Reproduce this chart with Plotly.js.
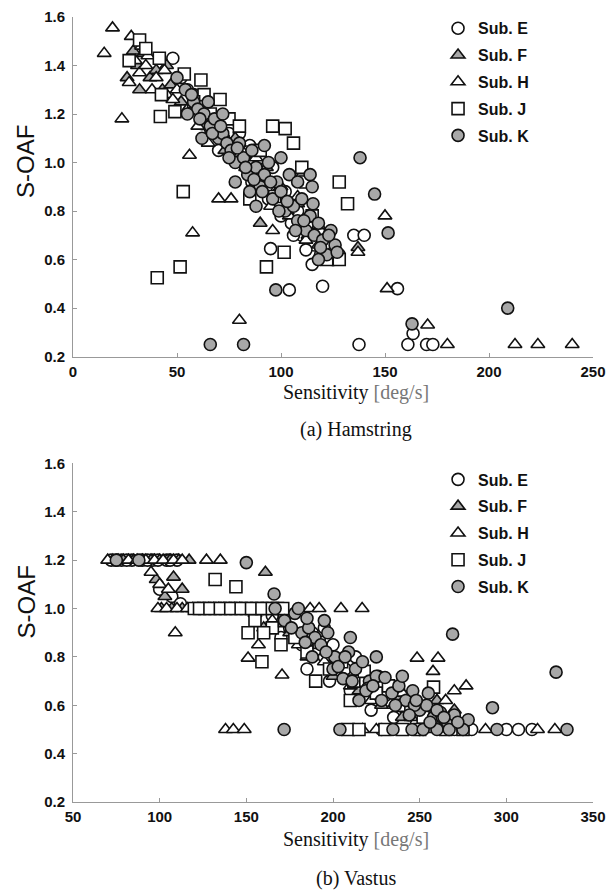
<!DOCTYPE html>
<html>
<head>
<meta charset="utf-8">
<script src="https://cdn.plot.ly/plotly-3.0.1.min.js"></script>
<style>html,body{margin:0;padding:0;background:#fff;}#chart{width:613px;height:892px;}</style>
</head>
<body>
<div id="chart"></div>
<script>
// ---------- (a) Hamstring ----------
var hamE_x = [48, 55, 60, 64, 68, 72, 75, 78, 82, 85, 88, 90, 93, 96, 99, 102, 105, 108, 110, 113, 116, 119, 122, 125, 128, 95, 104, 120, 137.5, 156, 161, 163.5, 170, 173, 135, 140, 70, 80, 115, 52, 58, 62, 66, 74, 86, 94, 100, 106, 112, 118, 124];
var hamE_y = [1.43, 1.30, 1.25, 1.20, 1.18, 1.10, 1.12, 1.05, 1.00, 1.07, 0.95, 1.02, 0.90, 0.98, 0.82, 0.88, 0.75, 0.80, 0.70, 0.74, 0.66, 0.62, 0.68, 0.60, 0.62, 0.645, 0.475, 0.49, 0.25, 0.48, 0.25, 0.295, 0.25, 0.25, 0.70, 0.70, 1.05, 1.12, 0.58, 1.35, 1.28, 1.16, 1.14, 1.08, 0.92, 0.85, 0.78, 0.70, 0.64, 0.72, 0.66];

var hamF_x = [26, 29, 31, 34, 37, 40, 43, 47, 52, 58, 63, 68, 73, 78, 83, 88, 93, 98, 103, 108, 113, 118, 123, 137, 32, 45, 66, 90, 110];
var hamF_y = [1.35, 1.46, 1.40, 1.45, 1.35, 1.38, 1.30, 1.32, 1.25, 1.22, 1.15, 1.12, 1.05, 1.10, 0.98, 0.92, 0.98, 0.88, 0.80, 0.83, 0.70, 0.66, 0.62, 0.65, 1.30, 1.40, 1.20, 0.75, 0.95];

var hamH_x = [15, 19, 23.5, 28, 30, 32, 35, 27, 33, 38, 40, 45, 48, 55, 60, 57.5, 56, 65, 70, 76, 72, 80, 85, 88, 92, 95, 100, 104, 108, 112, 137, 150, 151, 170.5, 180, 212.5, 223.5, 240, 80, 96, 118, 62, 44, 36, 50];
var hamH_y = [1.45, 1.555, 1.18, 1.52, 1.42, 1.37, 1.40, 1.33, 1.48, 1.30, 1.35, 1.28, 1.26, 1.22, 1.15, 0.71, 1.03, 1.08, 0.85, 0.85, 1.12, 0.35, 1.00, 1.02, 0.95, 0.82, 0.90, 0.78, 0.86, 0.68, 0.63, 0.78, 0.48, 0.33, 0.25, 0.25, 0.25, 0.25, 1.08, 0.72, 0.74, 1.18, 1.38, 1.44, 1.30];

var hamJ_x = [27, 32, 35, 41.5, 42.5, 49, 53.5, 61.5, 63, 70.7, 42, 53, 40.5, 51.5, 93, 101.5, 96, 102, 106, 122, 128, 132, 128, 75, 80, 85, 90, 58, 66, 110, 115, 88, 97, 112];
var hamJ_y = [1.42, 1.505, 1.47, 1.43, 1.28, 1.21, 1.365, 1.34, 1.28, 1.26, 1.19, 0.88, 0.525, 0.57, 0.57, 0.63, 1.15, 1.14, 1.08, 0.60, 0.60, 0.83, 0.92, 1.18, 1.15, 0.85, 1.05, 1.25, 1.20, 0.98, 0.78, 0.95, 0.86, 0.92];

var hamK_x = [50, 54, 58, 60, 63, 66, 68, 70, 72, 74, 76, 78, 80, 82, 84, 86, 88, 90, 92, 94, 96, 98, 100, 102, 104, 106, 108, 110, 112, 114, 116, 118, 120, 122, 124, 126, 65, 72, 85, 92, 100, 108, 115, 97.5, 66, 82, 209, 163, 151.5, 145, 138, 114, 55, 62, 78, 88, 118, 115.4, 57, 61, 67, 71, 75, 79, 83, 87, 91, 95, 99, 103, 107, 111, 119, 123, 127];
var hamK_y = [1.35, 1.30, 1.25, 1.22, 1.20, 1.15, 1.18, 1.10, 1.12, 1.08, 1.05, 1.00, 1.08, 1.02, 0.95, 1.05, 0.98, 0.90, 0.95, 1.00, 0.85, 0.92, 0.88, 0.80, 0.95, 0.82, 0.76, 0.85, 0.72, 0.78, 0.70, 0.75, 0.68, 0.62, 0.72, 0.66, 1.25, 1.20, 0.88, 1.07, 1.02, 0.92, 0.90, 0.475, 0.25, 0.25, 0.40, 0.335, 0.71, 0.87, 1.02, 0.95, 1.20, 1.10, 0.92, 0.82, 0.60, 0.83, 1.28, 1.18, 1.12, 1.15, 1.02, 1.06, 0.98, 0.93, 0.88, 0.92, 0.80, 0.84, 0.72, 0.76, 0.65, 0.70, 0.63];

// ---------- (b) Vastus ----------
var vasE_x = [72, 78, 84, 90, 96, 104, 110, 100, 107, 112, 160, 168, 175, 182, 188, 195, 200, 207, 213, 220, 226, 232, 238, 244, 250, 256, 262, 170, 185, 198, 210, 222, 235, 248, 205, 228, 250, 270, 300, 307, 314.8, 280, 195, 75, 81, 93, 99, 106, 165, 178, 190, 202, 216, 230, 242, 254];
var vasE_y = [1.2, 1.2, 1.2, 1.2, 1.2, 1.2, 1.2, 1.08, 1.05, 1.02, 1.0, 0.95, 0.92, 0.85, 0.90, 0.80, 0.85, 0.75, 0.80, 0.70, 0.72, 0.62, 0.66, 0.58, 0.60, 0.55, 0.52, 0.88, 0.75, 0.70, 0.66, 0.58, 0.55, 0.52, 0.5, 0.5, 0.5, 0.5, 0.5, 0.5, 0.5, 0.5, 0.92, 1.2, 1.2, 1.2, 1.2, 1.2, 0.97, 0.90, 0.83, 0.78, 0.70, 0.64, 0.58, 0.56];

var vasF_x = [73, 79, 85, 90, 95, 100, 106, 111, 117, 98, 103, 108, 113, 101, 107, 113, 119, 125, 131, 137, 143, 155, 160, 175, 185, 200, 215, 228, 240, 255, 260, 270, 161];
var vasF_y = [1.2, 1.2, 1.2, 1.2, 1.2, 1.2, 1.2, 1.2, 1.2, 1.12, 1.05, 1.13, 1.08, 1.0, 1.0, 1.0, 1.0, 1.0, 1.0, 1.0, 1.0, 0.98, 0.92, 0.90, 0.80, 0.72, 0.66, 0.60, 0.55, 0.50, 0.62, 0.58, 1.15];

var vasH_x = [70, 76, 82, 87, 92, 97, 102, 108, 113, 127, 135, 95, 100, 105, 99, 104, 110, 116, 122, 128, 134, 140, 146, 109, 186.8, 192, 204.6, 216.8, 151, 157, 170.6, 138, 142.5, 148.8, 248.5, 260.6, 257.7, 276.8, 217, 225, 288, 318, 328, 180, 195, 210, 222, 235, 245, 165, 240, 265, 270];
var vasH_y = [1.2, 1.2, 1.2, 1.2, 1.2, 1.2, 1.2, 1.2, 1.2, 1.2, 1.2, 1.15, 1.10, 1.08, 1.0, 1.0, 1.0, 1.0, 1.0, 1.0, 1.0, 1.0, 1.0, 0.9, 1.0, 1.0, 1.0, 1.0, 0.795, 0.85, 0.725, 0.5, 0.5, 0.5, 0.795, 0.795, 0.74, 0.68, 0.5, 0.5, 0.5, 0.5, 0.5, 0.85, 0.78, 0.68, 0.62, 0.60, 0.55, 0.95, 0.65, 0.62, 0.66];

var vasJ_x = [120, 126, 132, 138, 144, 150, 156, 162, 168, 132, 144, 155, 159, 165, 172, 178, 185, 192, 198, 205, 212, 218, 225, 232, 238, 245, 252, 258, 208.7, 215, 230, 240, 250, 265, 275, 160, 170, 190, 210, 151, 123, 129, 135, 141, 147, 153, 159, 165, 171];
var vasJ_y = [1.0, 1.0, 1.0, 1.0, 1.0, 1.0, 1.0, 1.0, 1.0, 1.12, 1.09, 0.95, 0.78, 0.92, 0.95, 0.88, 0.82, 0.86, 0.75, 0.78, 0.70, 0.74, 0.65, 0.68, 0.60, 0.62, 0.55, 0.675, 0.5, 0.5, 0.5, 0.5, 0.5, 0.5, 0.5, 0.90, 0.85, 0.70, 0.62, 0.90, 1.0, 1.0, 1.0, 1.0, 1.0, 1.0, 1.0, 1.0, 1.0];

var vasK_x = [75, 88, 150, 166, 166.6, 172, 178, 182, 186, 189.6, 193, 197, 201, 205.8, 209, 213, 217, 221, 225, 230, 234, 238, 242, 246, 250, 254, 258, 262, 266, 270, 274, 278, 195, 210, 225, 240, 255, 180, 200, 215, 269, 328.7, 292, 204, 234.6, 245.6, 252, 260, 267, 275, 294.6, 335, 171.8, 185, 220, 247, 263, 176, 184, 188, 196, 203, 207, 211, 219, 223, 228, 236, 244, 248, 256, 260, 264, 272];
var vasK_y = [1.2, 1.2, 1.19, 1.06, 1.0, 0.95, 0.98, 0.90, 0.92, 0.88, 0.85, 0.90, 0.80, 0.71, 0.82, 0.75, 0.78, 0.70, 0.72, 0.715, 0.65, 0.68, 0.62, 0.66, 0.58, 0.60, 0.55, 0.57, 0.53, 0.56, 0.52, 0.54, 0.95, 0.88, 0.80, 0.72, 0.65, 1.0, 0.75, 0.62, 0.894, 0.737, 0.59, 0.5, 0.5, 0.5, 0.5, 0.5, 0.5, 0.5, 0.5, 0.5, 0.5, 0.96, 0.67, 0.60, 0.55, 0.92, 0.86, 0.80, 0.82, 0.76, 0.80, 0.70, 0.66, 0.68, 0.62, 0.60, 0.56, 0.62, 0.53, 0.58, 0.55, 0.53];

var seriesNames = ['Sub. E', 'Sub. F', 'Sub. H', 'Sub. J', 'Sub. K'];
var yTickVals = [0.2, 0.4, 0.6, 0.8, 1.0, 1.2, 1.4, 1.6];

var styles = [
  {symbol: 'circle', color: '#ffffff'},
  {symbol: 'triangle-up', color: '#a8a8a8'},
  {symbol: 'triangle-up', color: '#ffffff'},
  {symbol: 'square', color: '#ffffff'},
  {symbol: 'circle', color: '#a8a8a8'}
];

var hamData = [[hamE_x, hamE_y], [hamF_x, hamF_y], [hamH_x, hamH_y], [hamJ_x, hamJ_y], [hamK_x, hamK_y]];
var vasData = [[vasE_x, vasE_y], [vasF_x, vasF_y], [vasH_x, vasH_y], [vasJ_x, vasJ_y], [vasK_x, vasK_y]];

var traces = [];
function addTraces(data, xa, ya, legendId) {
  data.forEach(function (d, i) {
    traces.push({
      type: 'scatter', mode: 'markers',
      x: d[0], y: d[1], xaxis: xa, yaxis: ya,
      name: seriesNames[i], legend: legendId, legendgroup: legendId + i,
      cliponaxis: false,
      marker: {symbol: styles[i].symbol, size: 12, color: styles[i].color,
               line: {color: '#111', width: 1.6}}
    });
  });
}
addTraces(hamData, 'x', 'y', 'legend');
addTraces(vasData, 'x2', 'y2', 'legend2');

var tickFont = {family: 'Arial, Liberation Sans, sans-serif', size: 15, color: '#111', weight: 'bold'};
function xAxis(range, anchor) {
  return {range: range, dtick: 50, tick0: 0, anchor: anchor, domain: [0, 1],
          showgrid: false, zeroline: false, showline: true, linecolor: '#999', linewidth: 1,
          ticks: 'inside', ticklen: 4, tickcolor: '#999', tickfont: tickFont, ticklabelstandoff: 1};
}
function yAxis(domain, anchor) {
  return {range: [0.2, 1.6], tickvals: yTickVals, tickformat: '.1f', anchor: anchor, domain: domain,
          showgrid: false, zeroline: false, showline: true, linecolor: '#999', linewidth: 1,
          ticks: 'inside', ticklen: 4, tickcolor: '#999', tickfont: tickFont, ticklabelstandoff: 4};
}

var legFont = {family: 'Arial, Liberation Sans, sans-serif', size: 16, color: '#111', weight: 'bold'};
var serif = 'Times New Roman, Liberation Serif, serif';
var xTitle = 'Sensitivity <span style="color:#777">[deg/s]</span>';

var layout = {
  width: 613, height: 892,
  margin: {l: 73, r: 20, t: 16, b: 90},
  paper_bgcolor: '#ffffff', plot_bgcolor: '#ffffff',
  showlegend: true,
  xaxis: xAxis([0, 250], 'y'),
  yaxis: yAxis([0.5674, 1], 'x'),
  xaxis2: xAxis([50, 350], 'y2'),
  yaxis2: yAxis([0, 0.4313], 'x2'),
  legend: {x: 0.702, xanchor: 'left', y: 1.006, yanchor: 'top', font: legFont,
           bgcolor: 'rgba(0,0,0,0)', tracegroupgap: 3, itemwidth: 30},
  legend2: {x: 0.702, xanchor: 'left', y: 0.432, yanchor: 'top', font: legFont,
            bgcolor: 'rgba(0,0,0,0)', tracegroupgap: 3, itemwidth: 30},
  annotations: [
    {text: 'S-OAF', xref: 'paper', yref: 'paper', x: -0.09, y: 0.8155, textangle: -90,
     showarrow: false, xanchor: 'center', yanchor: 'middle',
     font: {family: 'Arial, Liberation Sans, sans-serif', size: 24, color: '#111'}},
    {text: 'S-OAF', xref: 'paper', yref: 'paper', x: -0.09, y: 0.2545, textangle: -90,
     showarrow: false, xanchor: 'center', yanchor: 'middle',
     font: {family: 'Arial, Liberation Sans, sans-serif', size: 24, color: '#111'}},
    {text: xTitle, xref: 'paper', yref: 'paper', x: 0.544, y: 0.5216, showarrow: false,
     xanchor: 'center', yanchor: 'middle', font: {family: serif, size: 20, color: '#111'}},
    {text: xTitle, xref: 'paper', yref: 'paper', x: 0.544, y: -0.0475, showarrow: false,
     xanchor: 'center', yanchor: 'middle', font: {family: serif, size: 20, color: '#111'}},
    {text: '(a) Hamstring', xref: 'paper', yref: 'paper', x: 0.544, y: 0.474, showarrow: false,
     xanchor: 'center', yanchor: 'middle', font: {family: serif, size: 20, color: '#111'}},
    {text: '(b) Vastus', xref: 'paper', yref: 'paper', x: 0.544, y: -0.0975, showarrow: false,
     xanchor: 'center', yanchor: 'middle', font: {family: serif, size: 20, color: '#111'}}
  ]
};

Plotly.newPlot('chart', traces, layout, {displayModeBar: false, staticPlot: true});
</script>
</body>
</html>
